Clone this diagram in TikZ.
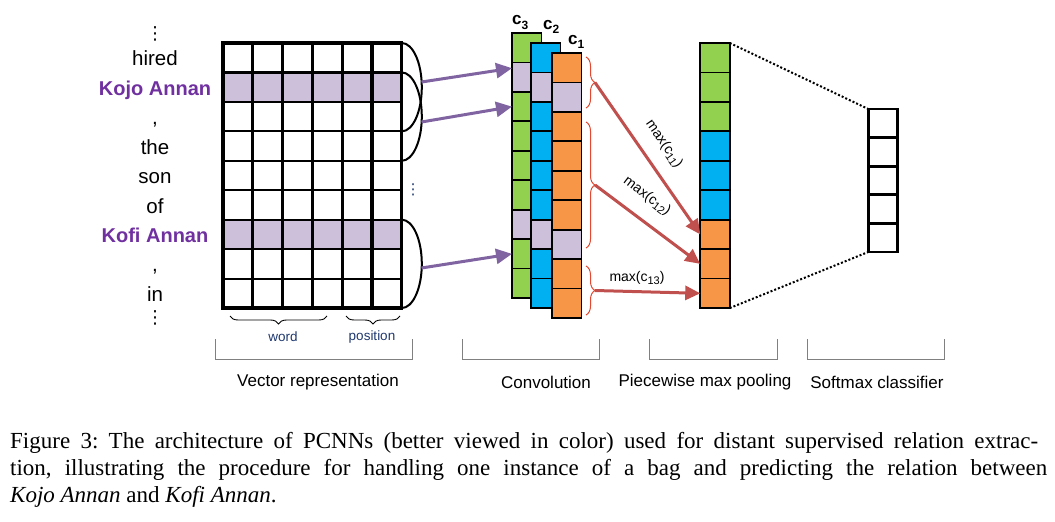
\documentclass[tikz,border=0pt]{standalone}
\usepackage{fontspec}
\usepackage{tikz}
\usetikzlibrary{arrows.meta,decorations.pathreplacing}
\newfontfamily\arialfont{Liberation Sans}
\newfontfamily\timesfont{Liberation Serif}
\newfontfamily\symfont{DejaVu Sans}
\frenchspacing

\begin{document}
\begin{tikzpicture}[x=1pt,y=-1pt,
  wordtxt/.style={font=\arialfont\fontsize{20.5}{24}\selectfont,anchor=base,inner sep=0pt},
  enttxt/.style={wordtxt,font=\arialfont\bfseries\fontsize{20}{24}\selectfont,text=entColor},
  dotstxt/.style={font=\symfont\fontsize{18}{20}\selectfont,inner sep=0pt},
  unit/.style={draw=black,line width=1.8pt,minimum width=29.5pt,minimum height=29.45pt,inner sep=0pt,outer sep=0pt},
  chantxt/.style={font=\arialfont\bfseries\fontsize{17}{18}\selectfont,anchor=base west,inner sep=0pt},
  maxtxt/.style={font=\arialfont\fontsize{14}{16}\selectfont,inner sep=0pt},
  subtxt/.style={font=\arialfont\fontsize{13.5}{16}\selectfont,text=navyColor,inner sep=0pt},
  sectxt/.style={font=\arialfont\fontsize{17}{20}\selectfont,inner sep=0pt},
  captxt/.style={font=\timesfont\fontsize{23}{27}\selectfont,anchor=base west,inner sep=0pt},
  convarrow/.style={line width=3pt,arrowColor,-{Triangle[length=16pt,width=15pt]}},
  poolarrow/.style={line width=3pt,poolColor,-{Triangle[length=15pt,width=14pt]}},
  redbrace/.style={braceColor,line width=1pt,decorate,decoration={brace,amplitude=9pt}},
  blackbrace/.style={black,line width=0.9pt,decorate,decoration={brace,amplitude=8pt}},
  bracket/.style={bracketColor,line width=1pt}]
% Colors
\definecolor{entColor}{RGB}{112,48,160}
\definecolor{rowColor}{RGB}{204,192,218}
\definecolor{greenColor}{RGB}{146,208,80}
\definecolor{blueColor}{RGB}{0,176,240}
\definecolor{orangeColor}{RGB}{247,150,70}
\definecolor{arrowColor}{RGB}{128,100,162}
\definecolor{poolColor}{RGB}{192,80,77}
\definecolor{braceColor}{RGB}{228,72,48}
\definecolor{navyColor}{RGB}{31,56,110}
\definecolor{bracketColor}{RGB}{128,128,128}
\useasboundingbox (0,0) rectangle (1055,522);
% Sentence
\node[dotstxt] (wtop) at (155,34) {⋮};
\node[wordtxt] (w1) at (155,65.7) {hired};
\node[enttxt]  (w2) at (155,95.2) {Kojo Annan};
\node[wordtxt] (w3) at (155,124.6) {,};
\node[wordtxt] (w4) at (155,154.1) {the};
\node[wordtxt] (w5) at (155,183.5) {son};
\node[wordtxt] (w6) at (155,213.0) {of};
\node[enttxt]  (w7) at (155,242.4) {Kofi Annan};
\node[wordtxt] (w8) at (155,271.9) {,};
\node[wordtxt] (w9) at (155,301.3) {in};
\node[dotstxt] (wbot) at (155,318) {⋮};
% Vector representation
\fill[rowColor] (223,72.45) rectangle (401.8,101.9);   % Kojo Annan
\fill[rowColor] (223,219.7) rectangle (401.8,249.15);  % Kofi Annan
\foreach \r in {1,...,8}
  \draw[line width=2.2pt] (223,{43+\r*29.45}) -- (401.8,{43+\r*29.45});
\foreach \c in {1,...,5}
  \draw[line width=3.2pt] ({223+\c*29.8},43) -- ({223+\c*29.8},308.05);
\draw[line width=3.2pt] (223,43) rectangle (401.8,308.05);
% Windows
\draw[line width=2pt] (401.8,43) arc[start angle=90,end angle=-90,x radius=20pt,y radius=44.17pt];
\draw[line width=2pt] (401.8,72.45) arc[start angle=90,end angle=-90,x radius=20pt,y radius=44.17pt];
\draw[line width=2pt] (401.8,219.7) arc[start angle=90,end angle=-90,x radius=20pt,y radius=44.17pt];
\coordinate (win1) at (421.5,82);
\coordinate (win2) at (421.5,122);
\coordinate (win3) at (421.5,268);
\node[dotstxt,text=navyColor,font=\symfont\fontsize{15}{16}\selectfont] (mdots) at (413,190) {⋮};
% Convolution
\foreach \col/\x/\y/\c in {g/526.75/33/greenColor,b/545.75/43/blueColor,o/566.75/53/orangeColor}{
  \foreach \i in {1,...,9}{
    \def\f{\c}
    \ifnum\i=2 \def\f{rowColor}\fi
    \ifnum\i=7 \def\f{rowColor}\fi
    \node[unit,fill=\f] (\col\i) at (\x,{\y+14.72+(\i-1)*29.45}) {};
  }
}
\node[chantxt] (c3) at (512,24) {c\raisebox{-5pt}{\fontsize{12}{12}\selectfont 3}};
\node[chantxt] (c2) at (543,29) {c\raisebox{-5pt}{\fontsize{12}{12}\selectfont 2}};
\node[chantxt] (c1) at (568,44) {c\raisebox{-5pt}{\fontsize{12}{12}\selectfont 1}};
\draw[convarrow] (win1) -- ([yshift=9pt]g2.west);
\draw[convarrow] (win2) -- (g3.west);
\draw[convarrow] (win3) -- (g8.west);
% Segments
\draw[redbrace] (586,57) -- (586,108);
\draw[redbrace] (586,122) -- (586,248);
\draw[redbrace] (586,266) -- (586,315);
\coordinate (seg1) at (595,82.5);
\coordinate (seg2) at (595,185);
\coordinate (seg3) at (595,290.5);
% Piecewise max pooling
\foreach \i/\c in {1/greenColor,2/greenColor,3/greenColor,4/blueColor,5/blueColor,6/blueColor,7/orangeColor,8/orangeColor,9/orangeColor}
  \node[unit,fill=\c] (p\i) at (715,{43+14.72+(\i-1)*29.45}) {};
\draw[poolarrow] (seg1) -- (p7.west);
\draw[poolarrow] (seg2) -- (p8.west);
\draw[poolarrow] (seg3) -- (p9.west);
\node[maxtxt,rotate=-55] (max1) at (664,144) {max(c\raisebox{-3pt}{\fontsize{11}{11}\selectfont 11})};
\node[maxtxt,rotate=-37] (max2) at (647,196) {max(c\raisebox{-3pt}{\fontsize{11}{11}\selectfont 12})};
\node[maxtxt] (max3) at (637,278) {max(c\raisebox{-3pt}{\fontsize{11}{11}\selectfont 13})};
% Softmax
\foreach \i in {1,...,5}
  \node[unit,line width=2.8pt,minimum height=28.6pt] (s\i) at (883,{109+14.3+(\i-1)*28.6}) {};
\draw[dotted,line width=2pt] (p1.north east) -- (s1.north west);
\draw[dotted,line width=2pt] (p9.south east) -- (s5.south west);
% Labels below
\draw[blackbrace] (327,316) -- (230,316);
\draw[blackbrace] (400,316) -- (346,316);
\node[subtxt] (word) at (283,337) {word};
\node[subtxt] (pos) at (372,337) {position};
\draw[bracket] (215,339) |- (412,359) -- (412,339);
\draw[bracket] (462,339) |- (599,359) -- (599,339);
\draw[bracket] (649,339) |- (777,359) -- (777,339);
\draw[bracket] (807,339) |- (944,359) -- (944,339);
\node[sectxt] (vec) at (318,382) {Vector representation};
\node[sectxt] (conv) at (546,382) {Convolution};
\node[sectxt] (pool) at (705,382) {Piecewise max pooling};
\node[sectxt] (soft) at (877,382) {Softmax classifier};
% Caption
\node[captxt] (cap1) at (10,448) {\makebox[1028pt][s]{Figure 3: The architecture of PCNNs (better viewed in color) used for distant supervised relation extrac-}};
\node[captxt] (cap2) at (10,475) {\makebox[1037pt][s]{tion, illustrating the procedure for handling one instance of a bag and predicting the relation between}};
\node[captxt] (cap3) at (10,502) {\textit{Kojo Annan} and \textit{Kofi Annan}.};
\end{tikzpicture}
\end{document}
